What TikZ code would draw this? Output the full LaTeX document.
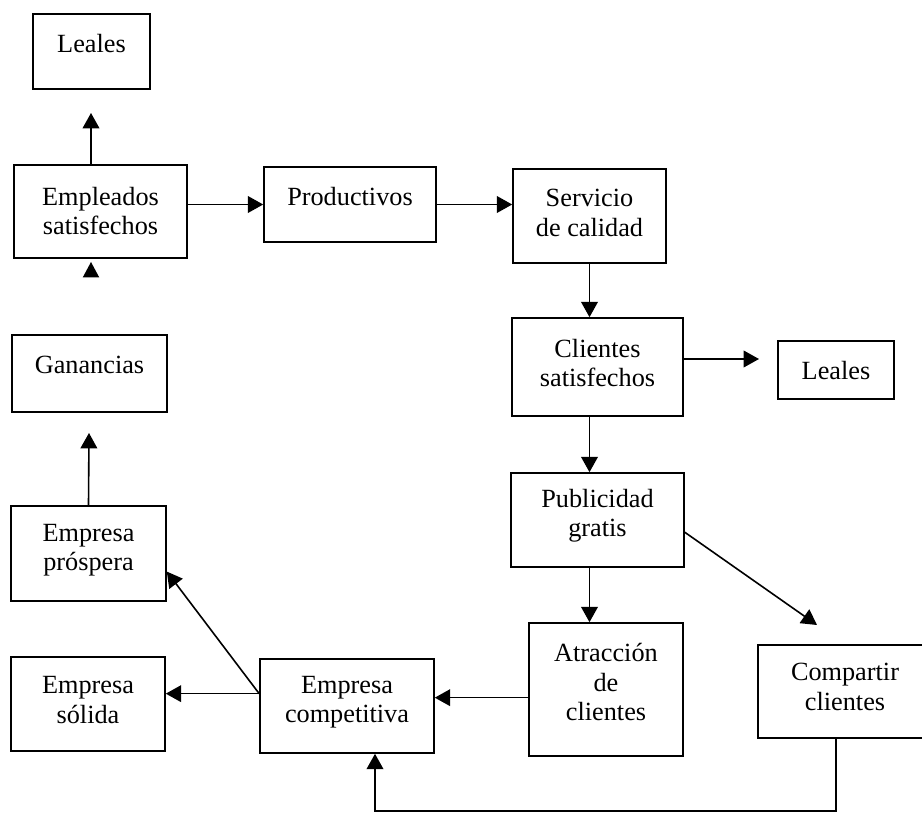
\documentclass[tikz,border=0pt]{standalone}
\usepackage{fontspec}
\setmainfont{Liberation Serif}
\usetikzlibrary{arrows.meta,fit}

\tikzset{
  box/.style={draw, line width=1.2pt, inner sep=0pt, fill=white},
  lbl/.style={align=center, inner sep=0pt, font=\fontsize{19.7}{22}\selectfont},
  arr/.style={line width=1.2pt, -{Triangle[length=11.5pt,width=12.5pt]}},
  plain/.style={line width=1.2pt}
}

\begin{document}
\begin{tikzpicture}[x=0.75pt,y=-0.75pt]
\clip (0,0) rectangle (922,813);
\fill[white] (0,0) rectangle (922,813);

% boxes
\node[box, fit={(33,14) (150,89)}]    (leales1)     {};
\node[box, fit={(14,165) (187,258)}]  (empleados)   {};
\node[box, fit={(264,167) (436,242)}] (productivos) {};
\node[box, fit={(513,169) (666,263)}] (servicio)    {};
\node[box, fit={(512,318) (683,416)}] (clientes)    {};
\node[box, fit={(778,341) (894,399)}] (leales2)     {};
\node[box, fit={(12,335) (167,412)}]  (ganancias)   {};
\node[box, fit={(511,473) (684,567)}] (publicidad)  {};
\node[box, fit={(11,506) (166,601)}]  (prospera)    {};
\node[box, fit={(529,623) (683,756)}] (atraccion)   {};
\node[box, fit={(758,645) (934,738)}] (compartir)   {};
\node[box, fit={(11,657) (165,751)}]  (solida)      {};
\node[box, fit={(260,659) (434,753)}] (competitiva) {};

% texts
\node[lbl] (leales1t)     at (91.5,44)  {Leales};
\node[lbl] (empleadost)   at (100.5,211) {Empleados\\satisfechos};
\node[lbl] (productivost) at (350,197)  {Productivos};
\node[lbl] (serviciot)    at (589.5,213) {Servicio\\de calidad};
\node[lbl] (clientest)    at (597.5,363) {Clientes\\satisfechos};
\node[lbl] (leales2t)     at (836,371)  {Leales};
\node[lbl] (gananciast)   at (89.5,365) {Ganancias};
\node[lbl] (publicidadt)  at (597.5,516) {Publicidad\\gratis};
\node[lbl] (prosperat)    at (88.5,550) {Empresa\\próspera};
\node[lbl] (atracciont)   at (606,682)  {Atracción\\de\\clientes};
\node[lbl] (compartirt)   at (845,687)  {Compartir\\clientes};
\node[lbl] (solidat)      at (88,700)   {Empresa\\sólida};
\node[lbl] (competitivat) at (347,702)  {Empresa\\competitiva};

% free arrow ends
\coordinate (tipEL)  at (91,113);
\coordinate (tipLo)  at (91,262);
\coordinate (tipCL)  at (759,359);
\coordinate (tipPC)  at (817,625);
\coordinate (tipPG)  at (89,433);
\coordinate (cornR)  at (836,811);
\coordinate (cornL)  at (375,811);

% connectors
\draw[arr] (empleados.north -| tipEL) -- (tipEL);
\fill (tipLo) -- (82.7,277.5) -- (99.3,277.5) -- cycle;
\draw[arr] (empleados.east |- productivos.west) -- (productivos.west);
\draw[arr] (productivos.east) -- (servicio.west |- productivos.east);
\draw[arr] (servicio.south) -- (servicio.south |- clientes.north);
\draw[arr] (clientes.east |- tipCL) -- (tipCL);
\draw[arr] (servicio.south |- clientes.south) -- (servicio.south |- publicidad.north);
\draw[arr] (servicio.south |- publicidad.south) -- (servicio.south |- atraccion.north);
\draw[arr] (publicidad.-8.5) -- (tipPC);
\draw[arr] (atraccion.186.3) -- (competitiva.east |- atraccion.186.3);
\draw[arr] (competitiva.172.8) -- (solida.east |- competitiva.172.8);
\draw[arr] (competitiva.172.8) -- (prospera.-13.4);
\draw[arr] (prospera.north) -- (tipPG);
\draw[arr] (cornR |- compartir.south) -- (cornR) -- (cornL) -- (cornL |- competitiva.south);
\end{tikzpicture}
\end{document}
